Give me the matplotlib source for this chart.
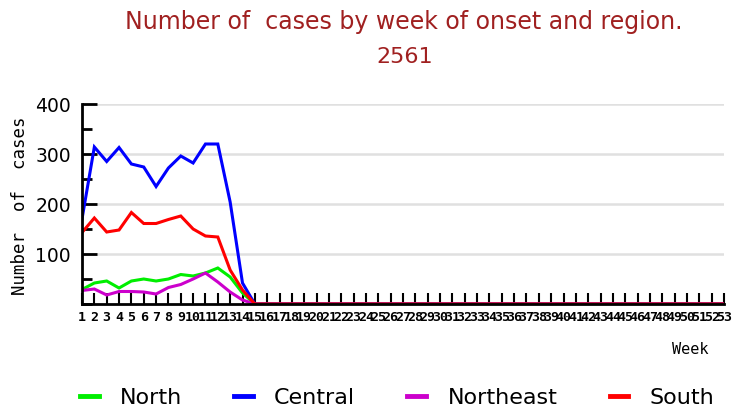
import numpy as np
import matplotlib
matplotlib.use("Agg")
import matplotlib.pyplot as plt
from matplotlib.ticker import MultipleLocator

# weekly case counts (weeks 15-53 are zero)
weeks = list(range(1, 54))
north = [29, 42, 46, 32, 46, 50, 46, 50, 59, 56, 62, 72, 54, 22] + [0] * 39
central = [170, 314, 285, 313, 280, 274, 235, 272, 296, 282, 320, 320, 204, 42] + [0] * 39
northeast = [27, 30, 18, 25, 25, 24, 20, 33, 39, 50, 62, 44, 24, 8] + [0] * 39
south = [143, 172, 144, 148, 183, 161, 161, 169, 176, 150, 136, 134, 68, 28] + [0] * 39

series_names = ['North', 'Central', 'Northeast', 'South']
series_vals = [north, central, northeast, south]
series_cols = ['#00ee00', '#0000ff', '#cc00cc', '#ff0000']

title_col = '#a02020'

fig = plt.figure(figsize=(7.38, 4.18), dpi=100)
ax = fig.add_axes([82/738, 1 - 304/418, (724-82)/738, 200/418])

for name, vals, col in zip(series_names, series_vals, series_cols):
    ax.plot(weeks, vals, color=col, lw=2.2, label=name, solid_joinstyle='miter')

ax.set_xlim(1, 53)
ax.set_ylim(0, 400)

for v in [100, 200, 300, 400]:
    ax.axhline(v, color='#e0e0e0', lw=1.8, zorder=0)

ax.spines['top'].set_visible(False)
ax.spines['right'].set_visible(False)
ax.spines['left'].set_linewidth(2)
ax.spines['bottom'].set_linewidth(2)

ax.set_yticks([100, 200, 300, 400])
ax.yaxis.set_minor_locator(MultipleLocator(50))
ax.tick_params(axis='y', which='major', direction='in', length=11, width=2, labelsize=13.5, pad=8)
ax.tick_params(axis='y', which='minor', direction='in', length=7, width=2)
ax.set_yticklabels(['100', '200', '300', '400'], family='DejaVu Sans')

ax.set_xticks(weeks)
ax.set_xticklabels([str(w) for w in weeks], family='DejaVu Sans Mono', fontweight='bold')
ax.tick_params(axis='x', direction='in', length=8, width=1.5, labelsize=9.5, pad=5)

fig.text(20/738, 1 - 206/418, 'Number  of  cases', rotation=90, ha='center', va='center',
         family='DejaVu Sans Mono', fontsize=12.5)
fig.text(690/738, 1 - 350/418, 'Week', ha='center', va='center',
         family='DejaVu Sans Mono', fontsize=11)

fig.text(404/738, 1 - 22/418, 'Number of  cases by week of onset and region.', ha='center', va='center',
         color=title_col, fontsize=17)
fig.text(405/738, 1 - 57/418, '2561', ha='center', va='center', color=title_col, fontsize=16)

leg = fig.legend(loc='center', bbox_to_anchor=(397/738, 1 - 398/418), ncol=4, frameon=False,
                 fontsize=16, handlelength=0.85, handletextpad=0.95, columnspacing=2.35)
for h in leg.get_lines():
    h.set_linewidth(3.5)

fig.savefig('out.png', dpi=100)
